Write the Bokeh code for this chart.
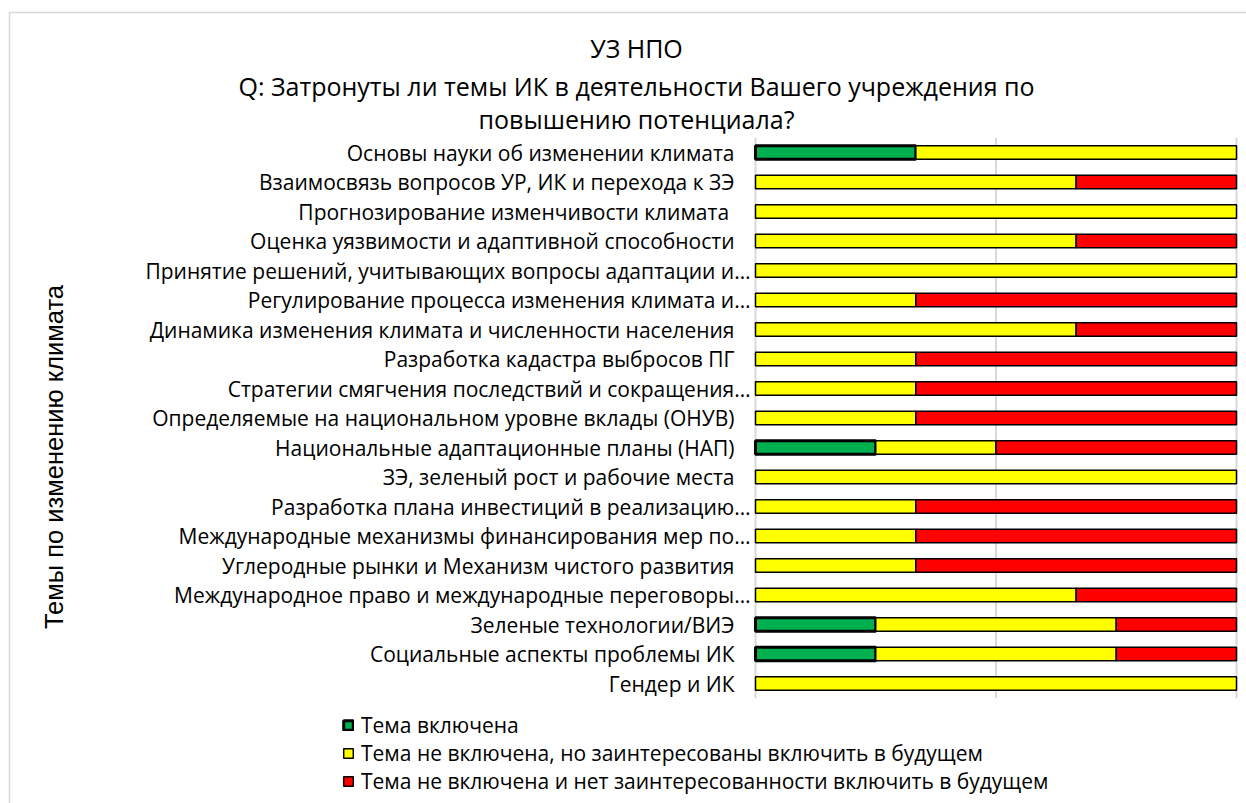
import math
from bokeh.plotting import figure
from bokeh.models import (ColumnDataSource, Range1d, Legend, LegendItem, CDSView, BooleanFilter)
from bokeh.core.properties import value
from bokeh.transform import stack
from bokeh.embed import file_html
from bokeh.resources import INLINE

# ---------------- data ----------------
categories = [
    "Основы науки об изменении климата",
    "Взаимосвязь вопросов УР, ИК и перехода к ЗЭ",
    "Прогнозирование изменчивости  климата",
    "Оценка уязвимости и адаптивной способности",
    "Принятие решений, учитывающих вопросы адаптации и…",
    "Регулирование процесса изменения климата и…",
    "Динамика изменения климата и численности населения",
    "Разработка кадастра выбросов ПГ",
    "Стратегии смягчения последствий и сокращения…",
    "Определяемые на национальном уровне вклады (ОНУВ)",
    "Национальные адаптационные планы (НАП)",
    "ЗЭ, зеленый рост и рабочие места",
    "Разработка плана инвестиций в реализацию…",
    "Международные механизмы финансирования мер по…",
    "Углеродные рынки и Механизм чистого развития",
    "Международное право и международные переговоры…",
    "Зеленые технологии/ВИЭ",
    "Социальные аспекты проблемы ИК",
    "Гендер и ИК",
]
included = [1/3, 0, 0, 0, 0, 0, 0, 0, 0, 0, 0.25, 0, 0, 0, 0, 0, 0.25, 0.25, 0]
interested = [2/3, 2/3, 1, 2/3, 1, 1/3, 2/3, 1/3, 1/3, 1/3, 0.25, 1, 1/3, 1/3, 1/3, 2/3, 0.5, 0.5, 1]
not_interested = [0, 1/3, 0, 1/3, 0, 2/3, 1/3, 2/3, 2/3, 2/3, 0.5, 0, 2/3, 2/3, 2/3, 1/3, 0.25, 0.25, 0]

series_labels = [
    "Тема включена",
    "Тема не включена, но заинтересованы включить в будущем",
    "Тема не включена и нет заинтересованности включить в будущем",
]
title_lines = [
    "УЗ НПО",
    "Q: Затронуты ли темы ИК в деятельности Вашего учреждения по",
    "повышению потенциала?",
]
y_title = "Темы  по изменению климата"
grid_ticks = [0, 0.5, 1]

# ---------------- layout (pixels) ----------------
W, H = 1246, 803
PLOT_L, PLOT_W = 755, 481        # pixel of value 0 and pixel width of value range 0..1
ROW0, PITCH = 152, 29.5          # pixel centre of first row, row pitch
FONT = "Open Sans"


def xpx(px):
    return (px - PLOT_L) / PLOT_W


def ypx(py):
    return (py - ROW0) / PITCH


rows = list(range(len(categories)))
# truncated labels (ending with an ellipsis) overhang a little towards the bars, as in the original
label_x = [xpx(750) if c.endswith("…") else xpx(734) for c in categories]
src = ColumnDataSource(dict(row=rows, cat=categories, lx=label_x,
                            inc=included, intr=interested, noint=not_interested))

p = figure(width=W, height=H,
           x_range=Range1d(xpx(0), xpx(W)), y_range=Range1d(ypx(H), ypx(0)),
           x_axis_location=None, y_axis_location=None, min_border=0,
           output_backend="svg", toolbar_location=None)
p.outline_line_color = None
p.background_fill_color = "white"
p.border_fill_color = "white"
p.xgrid.visible = False
p.ygrid.visible = False

# outer chart border
p.quad(left=[xpx(9)], right=[xpx(W + 50)], top=[ypx(12)], bottom=[ypx(H + 50)],
       fill_alpha=0, line_color="#d9d9d9", line_width=1.5)

# vertical gridlines
p.segment(x0=grid_ticks, x1=grid_ticks,
          y0=[-0.5] * len(grid_ticks), y1=[len(categories) - 0.5] * len(grid_ticks),
          line_color="#d9d9d9", line_width=2)

BAR_H = 0.45
v1 = CDSView(filter=BooleanFilter([v > 0 for v in included]))
v2 = CDSView(filter=BooleanFilter([v > 0 for v in interested]))
v3 = CDSView(filter=BooleanFilter([v > 0 for v in not_interested]))

r1 = p.hbar(y="row", left=0, right=stack("inc"), height=BAR_H, source=src, view=v1,
            fill_color="#00B050", line_color="black", line_width=3)
r2 = p.hbar(y="row", left=stack("inc"), right=stack("inc", "intr"), height=BAR_H, source=src, view=v2,
            fill_color="#FFFF00", line_color="black", line_width=1.5)
r3 = p.hbar(y="row", left=stack("inc", "intr"), right=stack("inc", "intr", "noint"), height=BAR_H,
            source=src, view=v3, fill_color="#FF0000", line_color="black", line_width=1.5)

# category labels
p.text(x="lx", y="row", text="cat", source=src, text_align="right", text_baseline="middle",
       text_font=value(FONT), text_font_size="21px", text_color="black")

# title lines
title_src = ColumnDataSource(dict(x=[xpx(636)] * 3,
                                  y=[ypx(47), ypx(85), ypx(118)], t=title_lines))
p.text(x="x", y="y", text="t", source=title_src, text_align="center", text_baseline="middle",
       text_font=value(FONT), text_font_size="25px", text_color="black")

# y-axis title
p.text(x=[xpx(53)], y=[ypx(453)], text=[y_title], angle=math.pi / 2,
       text_align="center", text_baseline="middle",
       text_font=value("Liberation Sans"), text_font_size="25.5px", text_color="black")

legend = Legend(items=[LegendItem(label=series_labels[0], renderers=[r1]),
                       LegendItem(label=series_labels[1], renderers=[r2]),
                       LegendItem(label=series_labels[2], renderers=[r3])],
                location=(342, 8), orientation="vertical",
                padding=0, margin=0, spacing=0, glyph_width=12, glyph_height=12,
                label_standoff=7, label_height=20,
                label_text_font=FONT, label_text_font_size="21px", label_text_color="black",
                border_line_color=None, background_fill_alpha=0)
p.add_layout(legend, "center")

open("out.html", "w").write(file_html(p, INLINE))
